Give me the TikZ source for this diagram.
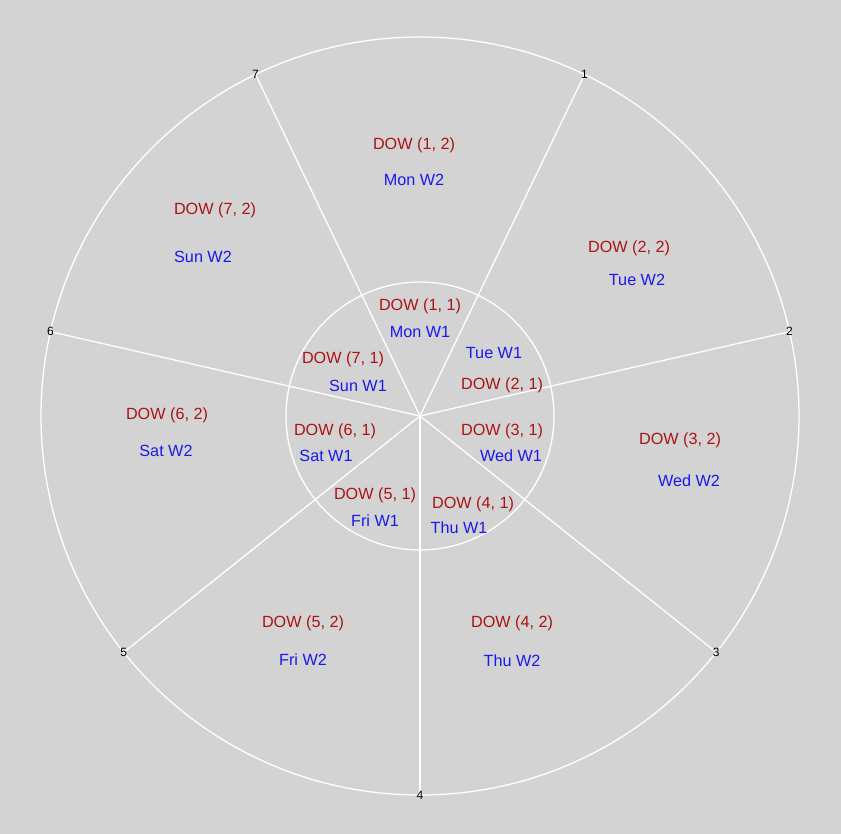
\documentclass[tikz,border=0pt]{standalone}
\usepackage{fontspec}
\setmainfont{Liberation Sans}
\definecolor{bg}{RGB}{211,211,211}
\definecolor{dred}{RGB}{170,20,20}
\definecolor{dblue}{RGB}{25,25,235}
\begin{document}
\begin{tikzpicture}[x=1pt,y=1pt,
  ring/.style={draw=white,line width=1.3pt},
  spoke/.style={draw=white,line width=1.3pt},
  num/.style={font=\fontsize{12}{12}\selectfont,text=black,inner sep=0pt},
  dow/.style={font=\fontsize{16.2}{17}\selectfont,text=dred,inner sep=0pt,yshift=-1.5pt},
  day/.style={font=\fontsize{16.2}{17}\selectfont,text=dblue,inner sep=0pt,yshift=-1.5pt}]
\fill[bg] (0,0) rectangle (841,-834);
\useasboundingbox (0,0) rectangle (841,-834);
\coordinate (c) at (420,-416);
\draw[ring] (c) circle[radius=379pt];
\draw[ring] (c) circle[radius=134pt];
\foreach \n in {1,...,7}{
  \path (c) ++({-90+(4-\n)*360/7}:379pt) coordinate (p\n);
  \draw[spoke] (c) -- (p\n);
}
\foreach \n in {1,...,7}{
  \node[num] (n\n) at (p\n) {\n};
}
% outer ring
\node[dow] (o1) at (414,-144) {DOW (1, 2)};
\node[day] (d1) at (414,-178) {Mon W2};
\node[dow] (o7) at (215,-209) {DOW (7, 2)};
\node[day] (d7) at (203,-255) {Sun W2};
\node[dow] (o2) at (629,-247) {DOW (2, 2)};
\node[day] (d2) at (637,-278) {Tue W2};
\node[dow] (o3) at (680,-439) {DOW (3, 2)};
\node[day] (d3) at (689,-479) {Wed W2};
\node[dow] (o6) at (167,-414) {DOW (6, 2)};
\node[day] (d6) at (166,-449) {Sat W2};
\node[dow] (o5) at (303,-622) {DOW (5, 2)};
\node[day] (d5) at (303,-658) {Fri W2};
\node[dow] (o4) at (512,-622) {DOW (4, 2)};
\node[day] (d4) at (512,-659) {Thu W2};
% inner ring
\node[dow] (i1) at (420,-305) {DOW (1, 1)};
\node[day] (e1) at (420,-331) {Mon W1};
\node[day] (e2) at (494,-352) {Tue W1};
\node[dow] (i2) at (502,-384) {DOW (2, 1)};
\node[dow] (i7) at (343,-358) {DOW (7, 1)};
\node[day] (e7) at (358,-384) {Sun W1};
\node[dow] (i6) at (335,-430) {DOW (6, 1)};
\node[day] (e6) at (326,-454) {Sat W1};
\node[dow] (i3) at (502,-430) {DOW (3, 1)};
\node[day] (e3) at (511,-454) {Wed W1};
\node[dow] (i5) at (375,-494) {DOW (5, 1)};
\node[day] (e5) at (375,-519) {Fri W1};
\node[dow] (i4) at (473,-503) {DOW (4, 1)};
\node[day] (e4) at (459,-526) {Thu W1};
\end{tikzpicture}
\end{document}
